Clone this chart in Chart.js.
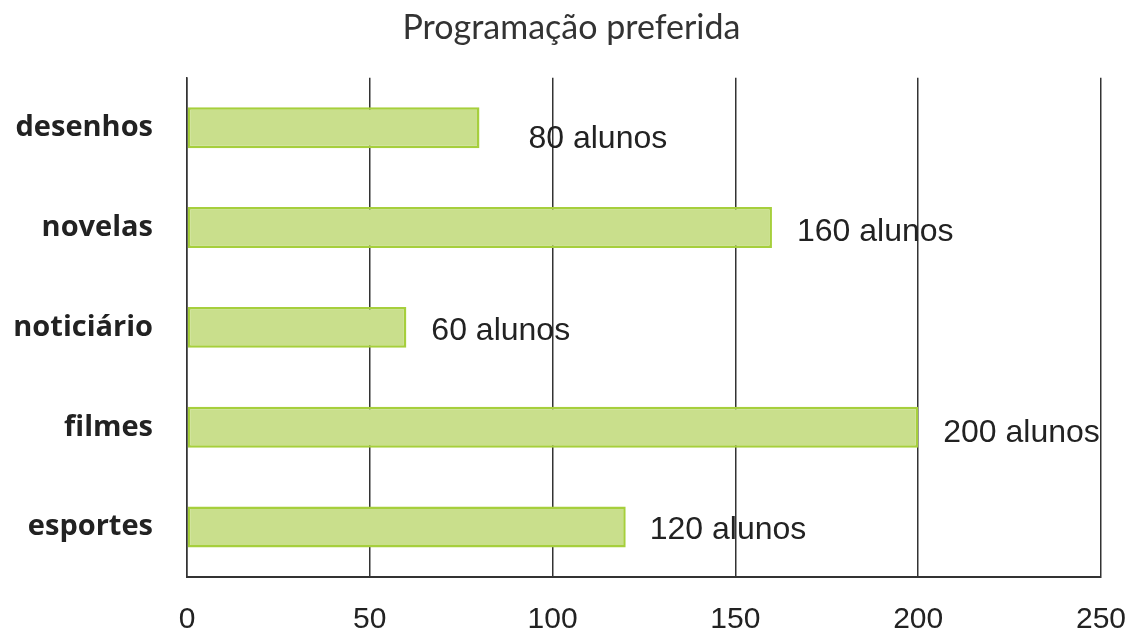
<!DOCTYPE html>
<html>
<head>
<meta charset="utf-8">
<script src="https://cdn.jsdelivr.net/npm/chart.js@4/dist/chart.umd.min.js"></script>
<style>
  html, body { margin: 0; padding: 0; background: #fff; }
  #wrap { width: 1131px; height: 631px; }
</style>
</head>
<body>
<div id="wrap"><canvas id="chart"></canvas></div>
<script>
// Programação preferida — alunos por tipo de programa
const categories = ['desenhos', 'novelas', 'noticiário', 'filmes', 'esportes'];
const alunos = [80, 160, 60, 200, 120];
const valueLabels = ['80 alunos', '160 alunos', '60 alunos', '200 alunos', '120 alunos'];
const xTicks = [0, 50, 100, 150, 200, 250];

const ink = '#222';

// writes "N alunos" to the right of each bar
const barLabels = {
    id: 'barLabels',
    afterDatasetsDraw: function (chart, args, opts) {
        const ctx = chart.ctx;
        const meta = chart.getDatasetMeta(0);
        ctx.save();
        ctx.font = opts.font;
        ctx.fillStyle = opts.color;
        ctx.textAlign = 'left';
        ctx.textBaseline = 'middle';
        meta.data.forEach(function (bar, i) {
            const off = opts.offsets[i] || [25, 3];
            ctx.fillText(valueLabels[i], bar.x + off[0], bar.y + off[1]);
        });
        ctx.restore();
    }
};

new Chart(document.getElementById('chart'), {
    type: 'bar',
    data: {
        labels: categories,
        datasets: [{
            data: alunos,
            backgroundColor: '#c9df8c',
            borderColor: '#a6cf3c',
            borderWidth: 2.5,
            borderSkipped: false,
            barPercentage: 0.41,
            categoryPercentage: 1.0
        }]
    },
    options: {
        indexAxis: 'y',
        responsive: true,
        maintainAspectRatio: false,
        animation: false,
        layout: { padding: { left: 12, right: 0, top: 0, bottom: 0 } },
        plugins: {
            legend: { display: false },
            tooltip: { enabled: false },
            title: {
                display: true,
                text: 'Programação preferida',
                color: '#333',
                font: { family: 'Lato', size: 34, weight: '400' },
                padding: { top: 8, bottom: 29 }
            },
            barLabels: {
                font: '32px "Liberation Sans", Arial, sans-serif',
                color: ink,
                offsets: [[49, 11], [25, 5], [25, 4], [25, 6], [24, 3]]
            }
        },
        scales: {
            x: {
                min: 0,
                max: 250,
                afterBuildTicks: function (scale) {
                    scale.ticks = xTicks.map(function (v) { return { value: v }; });
                },
                afterFit: function (scale) {
                    scale.height = 54;
                    // keep the plot edge fixed instead of reserving room for tick text
                    scale.paddingLeft = 0;
                    scale.paddingRight = 30;
                },
                grid: { color: '#333', lineWidth: 1.5, drawTicks: false },
                border: { display: true, color: '#333', width: 2 },
                ticks: {
                    color: ink,
                    padding: 25,
                    maxRotation: 0,
                    font: { family: 'Liberation Sans', size: 30 }
                }
            },
            y: {
                afterFit: function (scale) { scale.width = 175; },
                grid: { display: false, drawTicks: false },
                border: { display: true, color: '#333', width: 1.5 },
                ticks: {
                    color: ink,
                    padding: 34,
                    font: { family: 'Open Sans', size: 29, weight: '700' }
                }
            }
        }
    },
    plugins: [barLabels]
});
</script>
</body>
</html>
